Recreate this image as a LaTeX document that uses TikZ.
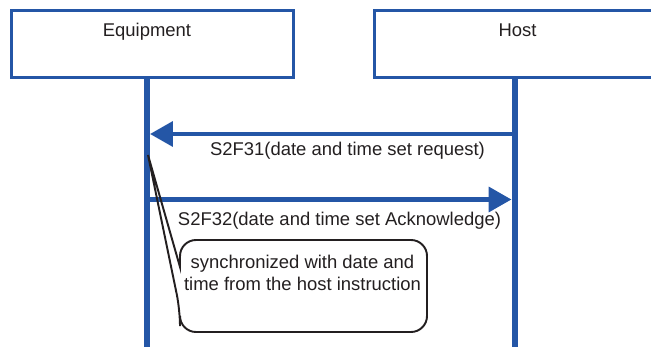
\documentclass[tikz,border=0pt]{standalone}
\usepackage{fontspec}
\setmainfont{Liberation Sans}
\usetikzlibrary{arrows.meta,positioning}
\definecolor{seqblue}{RGB}{36,86,166}
\definecolor{ink}{RGB}{35,31,32}

\begin{document}
\begin{tikzpicture}[x=0.02cm, y=-0.02cm,
    font=\fontsize{10.5}{12.5}\selectfont, text=ink,
    actor/.style={draw=seqblue, line width=1.7pt, minimum height=1.34cm, inner sep=0pt},
    lifeline/.style={draw=seqblue, line width=3.8pt},
    msg/.style={draw=seqblue, line width=2.55pt, -{Triangle[length=13pt,width=14pt]}},
    memo/.style={draw=ink, line width=1.1pt}]
  \useasboundingbox (0,0) rectangle (651,347);
  \clip (0,0) rectangle (651,347);

  % the two sides
  \node[actor, minimum width=5.64cm] (equip) at (152.5,44) {};
  \node[actor, minimum width=5.7cm] (host) at (517,44) {};
  \node[anchor=base] (equip-name) at (147,37) {Equipment};
  \node[anchor=base] (host-name) at (517.5,37) {Host};

  \coordinate (eq-end) at (147,347);
  \coordinate (host-end) at (515,347);
  \draw[lifeline] (equip.south -| eq-end) -- (eq-end);
  \draw[lifeline] (host.south -| host-end) -- (host-end);

  % messages
  \coordinate (req-from) at (515,134);
  \coordinate (req-to) at (150,134);
  \coordinate (ack-from) at (147,199.5);
  \coordinate (ack-to) at (511.5,199.5);
  \draw[msg] (req-from) -- (req-to);
  \node[anchor=base] (req) at (347.5,156) {S2F31(date and time set request)};
  \draw[msg] (ack-from) -- (ack-to);
  \node[anchor=base] (ack) at (339.5,225) {S2F32(date and time set Acknowledge)};

  % note on the equipment side
  \coordinate (tip) at (148,155);
  \draw[memo, rounded corners=0.32cm] (180,267) -- (180,240) -- (427,240) -- (427,332)
    -- (180,332) -- (180,310) [sharp corners] -- (tip) -- cycle;
  \node[anchor=north, align=center, inner sep=0pt] (sync) at (302.5,254.5)
    {synchronized with date and\\time from the host instruction};
\end{tikzpicture}
\end{document}
